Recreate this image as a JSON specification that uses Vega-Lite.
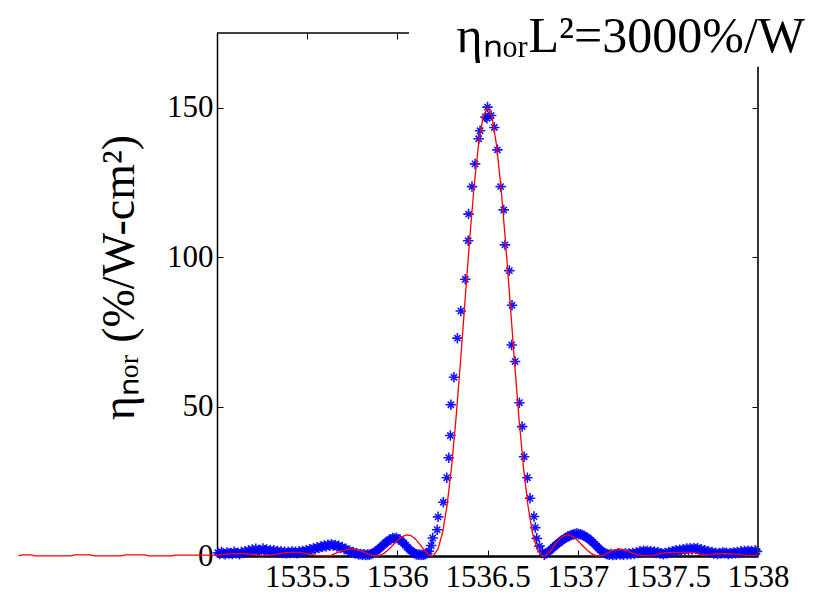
{
  "$schema": "https://vega.github.io/schema/vega-lite/v6.json",
  "width": 541,
  "height": 523,
  "autosize": {"type": "none"},
  "padding": {"left": 217, "top": 33, "right": 58, "bottom": 42},
  "background": "white",
  "title": {"text": "ηₙₒᵣL²=3000%/W", "anchor": "end", "frame": "group", "font": "Times New Roman, Liberation Serif, serif", "fontSize": 50, "fontWeight": "normal", "color": "black", "baseline": "alphabetic", "offset": 0, "dx": 47, "dy": 70},
  "config": {"view": {"stroke": null}, "axis": {"grid": false, "labelFont": "Times New Roman, Liberation Serif, serif", "labelFontSize": 31, "labelColor": "black", "tickColor": "black", "domainColor": "black", "titleFont": "Times New Roman, Liberation Serif, serif", "titleColor": "black", "titleFontWeight": "normal"}},
  "datasets": {
    "measured": [
      {"x":1535.005,"y":1.1},{"x":1535.015,"y":0.7},{"x":1535.025,"y":1.3},{"x":1535.035,"y":0.9},{"x":1535.045,"y":0.6},{"x":1535.055,"y":1.2},{"x":1535.065,"y":0.8},{"x":1535.075,"y":1.0},{"x":1535.085,"y":0.7},{"x":1535.095,"y":1.4},
      {"x":1535.105,"y":0.9},{"x":1535.115,"y":1.1},{"x":1535.125,"y":0.6},{"x":1535.135,"y":1.3},{"x":1535.145,"y":1.0},{"x":1535.155,"y":1.6},{"x":1535.165,"y":1.2},{"x":1535.175,"y":1.9},{"x":1535.185,"y":1.4},{"x":1535.195,"y":2.2},
      {"x":1535.205,"y":1.7},{"x":1535.215,"y":2.4},{"x":1535.225,"y":1.8},{"x":1535.235,"y":2.1},{"x":1535.245,"y":1.5},{"x":1535.255,"y":2.5},{"x":1535.265,"y":1.9},{"x":1535.275,"y":2.2},{"x":1535.285,"y":1.6},{"x":1535.295,"y":2.0},
      {"x":1535.305,"y":1.4},{"x":1535.315,"y":1.9},{"x":1535.325,"y":1.3},{"x":1535.335,"y":1.7},{"x":1535.345,"y":1.1},{"x":1535.355,"y":1.6},{"x":1535.365,"y":1.0},{"x":1535.375,"y":1.4},{"x":1535.385,"y":0.9},{"x":1535.395,"y":1.3},
      {"x":1535.405,"y":1.0},{"x":1535.415,"y":1.5},{"x":1535.425,"y":1.1},{"x":1535.435,"y":1.4},{"x":1535.445,"y":0.9},{"x":1535.455,"y":1.6},{"x":1535.465,"y":1.2},{"x":1535.475,"y":1.7},{"x":1535.485,"y":1.3},{"x":1535.495,"y":1.9},
      {"x":1535.505,"y":1.6},{"x":1535.515,"y":2.3},{"x":1535.525,"y":2.0},{"x":1535.535,"y":2.6},{"x":1535.545,"y":2.3},{"x":1535.555,"y":2.9},{"x":1535.565,"y":2.7},{"x":1535.575,"y":3.2},{"x":1535.585,"y":3.0},{"x":1535.595,"y":3.5},
      {"x":1535.605,"y":3.2},{"x":1535.615,"y":3.8},{"x":1535.625,"y":3.4},{"x":1535.635,"y":3.9},{"x":1535.645,"y":3.5},{"x":1535.655,"y":3.7},{"x":1535.665,"y":3.2},{"x":1535.675,"y":3.4},{"x":1535.685,"y":2.8},{"x":1535.695,"y":3.0},
      {"x":1535.705,"y":2.3},{"x":1535.715,"y":2.4},{"x":1535.725,"y":1.7},{"x":1535.735,"y":1.8},{"x":1535.745,"y":1.2},{"x":1535.755,"y":1.3},{"x":1535.765,"y":0.8},{"x":1535.775,"y":0.9},{"x":1535.785,"y":0.5},{"x":1535.795,"y":0.7},
      {"x":1535.805,"y":0.4},{"x":1535.815,"y":0.6},{"x":1535.825,"y":0.3},{"x":1535.835,"y":0.5},{"x":1535.845,"y":0.4},{"x":1535.855,"y":0.7},{"x":1535.865,"y":0.9},{"x":1535.875,"y":1.3},{"x":1535.885,"y":1.7},{"x":1535.895,"y":2.3},
      {"x":1535.905,"y":2.7},{"x":1535.915,"y":3.4},{"x":1535.925,"y":3.8},{"x":1535.935,"y":4.5},{"x":1535.945,"y":4.8},{"x":1535.955,"y":5.4},{"x":1535.965,"y":5.6},{"x":1535.975,"y":6.0},{"x":1535.985,"y":5.8},{"x":1535.995,"y":6.1},
      {"x":1536.005,"y":5.6},{"x":1536.015,"y":5.5},{"x":1536.025,"y":4.8},{"x":1536.035,"y":4.4},{"x":1536.045,"y":3.6},{"x":1536.055,"y":3.0},{"x":1536.065,"y":2.3},{"x":1536.075,"y":1.8},{"x":1536.085,"y":1.2},{"x":1536.095,"y":0.9},
      {"x":1536.105,"y":0.6},{"x":1536.115,"y":0.4},{"x":1536.125,"y":0.5},{"x":1536.135,"y":0.3},{"x":1536.145,"y":0.4},{"x":1536.155,"y":0.6},{"x":1536.165,"y":0.9},{"x":1536.175,"y":1.6},
      {"x":1536.188,"y":3.5},{"x":1536.196,"y":6.0},{"x":1536.221,"y":8.8},{"x":1536.226,"y":13.1},{"x":1536.255,"y":18.0},{"x":1536.274,"y":26.2},{"x":1536.285,"y":32.9},{"x":1536.294,"y":40.3},{"x":1536.297,"y":50.6},{"x":1536.314,"y":59.8},
      {"x":1536.333,"y":72.9},{"x":1536.352,"y":82.0},{"x":1536.377,"y":92.6},{"x":1536.393,"y":105.5},{"x":1536.395,"y":114.4},{"x":1536.414,"y":123.6},{"x":1536.431,"y":131.2},{"x":1536.451,"y":139.6},{"x":1536.459,"y":142.3},{"x":1536.488,"y":146.9},
      {"x":1536.497,"y":146.5},{"x":1536.5,"y":150.2},{"x":1536.52,"y":147.4},{"x":1536.538,"y":143.4},{"x":1536.555,"y":135.9},{"x":1536.573,"y":123.6},{"x":1536.59,"y":115.8},{"x":1536.597,"y":104.1},{"x":1536.621,"y":95.5},{"x":1536.636,"y":83.9},
      {"x":1536.634,"y":70.6},{"x":1536.653,"y":65.1},{"x":1536.677,"y":51.3},{"x":1536.692,"y":43.3},{"x":1536.703,"y":33.2},{"x":1536.721,"y":26.2},{"x":1536.736,"y":19.3},{"x":1536.758,"y":13.2},{"x":1536.765,"y":9.5},{"x":1536.773,"y":5.9},
      {"x":1536.788,"y":3.3},{"x":1536.805,"y":1.4},
      {"x":1536.815,"y":0.4},{"x":1536.825,"y":0.8},{"x":1536.835,"y":1.2},{"x":1536.845,"y":1.8},{"x":1536.855,"y":2.3},{"x":1536.865,"y":2.9},{"x":1536.875,"y":3.4},{"x":1536.885,"y":3.9},{"x":1536.895,"y":4.4},{"x":1536.905,"y":4.9},
      {"x":1536.915,"y":5.3},{"x":1536.925,"y":5.8},{"x":1536.935,"y":6.1},{"x":1536.945,"y":6.5},{"x":1536.955,"y":6.7},{"x":1536.965,"y":7.0},{"x":1536.975,"y":7.2},{"x":1536.985,"y":7.4},{"x":1536.995,"y":7.5},{"x":1537.005,"y":7.4},
      {"x":1537.015,"y":7.3},{"x":1537.025,"y":7.0},{"x":1537.035,"y":6.8},{"x":1537.045,"y":6.4},{"x":1537.055,"y":6.0},{"x":1537.065,"y":5.5},{"x":1537.075,"y":5.1},{"x":1537.085,"y":4.5},{"x":1537.095,"y":3.9},{"x":1537.105,"y":3.3},
      {"x":1537.115,"y":2.7},{"x":1537.125,"y":2.1},{"x":1537.135,"y":1.6},{"x":1537.145,"y":1.1},{"x":1537.155,"y":0.8},{"x":1537.165,"y":0.6},{"x":1537.175,"y":0.4},{"x":1537.185,"y":0.7},{"x":1537.195,"y":0.3},{"x":1537.205,"y":0.6},
      {"x":1537.215,"y":0.4},{"x":1537.225,"y":0.8},{"x":1537.235,"y":0.5},{"x":1537.245,"y":0.7},{"x":1537.255,"y":0.4},{"x":1537.265,"y":0.9},{"x":1537.275,"y":0.5},{"x":1537.285,"y":0.8},{"x":1537.295,"y":0.6},{"x":1537.305,"y":1.0},
      {"x":1537.315,"y":0.7},{"x":1537.325,"y":1.2},{"x":1537.335,"y":1.0},{"x":1537.345,"y":1.6},{"x":1537.355,"y":1.3},{"x":1537.365,"y":1.8},{"x":1537.375,"y":1.4},{"x":1537.385,"y":1.7},{"x":1537.395,"y":1.3},{"x":1537.405,"y":1.6},
      {"x":1537.415,"y":1.2},{"x":1537.425,"y":1.5},{"x":1537.435,"y":1.0},{"x":1537.445,"y":1.3},{"x":1537.455,"y":0.8},{"x":1537.465,"y":0.9},{"x":1537.475,"y":0.6},{"x":1537.485,"y":1.0},{"x":1537.495,"y":0.8},{"x":1537.505,"y":1.3},
      {"x":1537.515,"y":1.1},{"x":1537.525,"y":1.6},{"x":1537.535,"y":1.4},{"x":1537.545,"y":1.9},{"x":1537.555,"y":1.6},{"x":1537.565,"y":2.1},{"x":1537.575,"y":1.8},{"x":1537.585,"y":2.3},{"x":1537.595,"y":2.0},{"x":1537.605,"y":2.5},
      {"x":1537.615,"y":2.1},{"x":1537.625,"y":2.6},{"x":1537.635,"y":2.2},{"x":1537.645,"y":2.7},{"x":1537.655,"y":2.3},{"x":1537.665,"y":2.6},{"x":1537.675,"y":2.0},{"x":1537.685,"y":2.3},{"x":1537.695,"y":1.7},{"x":1537.705,"y":1.9},
      {"x":1537.715,"y":1.4},{"x":1537.725,"y":1.6},{"x":1537.735,"y":1.1},{"x":1537.745,"y":1.3},{"x":1537.755,"y":0.8},{"x":1537.765,"y":1.1},{"x":1537.775,"y":0.7},{"x":1537.785,"y":1.0},{"x":1537.795,"y":0.8},{"x":1537.805,"y":1.2},
      {"x":1537.815,"y":0.9},{"x":1537.825,"y":1.1},{"x":1537.835,"y":0.7},{"x":1537.845,"y":1.0},{"x":1537.855,"y":0.8},{"x":1537.865,"y":1.2},{"x":1537.875,"y":0.9},{"x":1537.885,"y":1.3},{"x":1537.895,"y":1.0},{"x":1537.905,"y":1.6},
      {"x":1537.915,"y":1.2},{"x":1537.925,"y":1.7},{"x":1537.935,"y":1.3},{"x":1537.945,"y":1.8},{"x":1537.955,"y":1.4},{"x":1537.965,"y":1.7},{"x":1537.975,"y":1.2},{"x":1537.985,"y":1.9},{"x":1537.995,"y":1.5}
    ],
    "theory": [
      {"x":1533.90,"y":0.05},{"x":1533.92,"y":0.4},{"x":1533.97,"y":0.4},{"x":1533.99,"y":0.05},{"x":1534.19,"y":0.05},{"x":1534.21,"y":0.4},{"x":1534.30,"y":0.4},{"x":1534.32,"y":0.05},{"x":1534.47,"y":0.05},{"x":1534.49,"y":0.4},
      {"x":1534.60,"y":0.4},{"x":1534.62,"y":0.05},{"x":1534.75,"y":0.05},{"x":1534.77,"y":0.3},{"x":1534.95,"y":0.3},
      {"x":1535.00,"y":0.3},{"x":1535.05,"y":0.6},{"x":1535.10,"y":0.8},{"x":1535.15,"y":0.8},{"x":1535.20,"y":0.5},{"x":1535.25,"y":0.1},{"x":1535.30,"y":0.3},{"x":1535.35,"y":0.9},{"x":1535.40,"y":1.2},{"x":1535.45,"y":1.2},
      {"x":1535.50,"y":0.8},{"x":1535.55,"y":0.2},{"x":1535.60,"y":0.05},{"x":1535.63,"y":0.1},{"x":1535.65,"y":0.7},{"x":1535.70,"y":1.9},{"x":1535.75,"y":2.4},{"x":1535.80,"y":1.6},{"x":1535.85,"y":0.4},{"x":1535.88,"y":0.0},
      {"x":1535.90,"y":0.16},{"x":1535.925,"y":0.88},{"x":1535.95,"y":2.08},{"x":1535.975,"y":3.6},{"x":1536.00,"y":5.16},{"x":1536.025,"y":6.41},{"x":1536.05,"y":7.04},{"x":1536.075,"y":6.84},{"x":1536.10,"y":5.71},{"x":1536.125,"y":3.89},
      {"x":1536.15,"y":1.84},{"x":1536.175,"y":0.32},{"x":1536.19,"y":0.0},{"x":1536.20,"y":0.17},{"x":1536.225,"y":2.3},{"x":1536.25,"y":7.6},{"x":1536.275,"y":16.6},{"x":1536.30,"y":29.4},{"x":1536.325,"y":45.8},{"x":1536.35,"y":64.8},
      {"x":1536.375,"y":85.1},{"x":1536.40,"y":105.1},{"x":1536.425,"y":123.2},{"x":1536.45,"y":137.6},{"x":1536.475,"y":146.8},{"x":1536.50,"y":150.0},{"x":1536.525,"y":146.8},{"x":1536.55,"y":137.6},{"x":1536.575,"y":123.2},{"x":1536.60,"y":105.1},
      {"x":1536.625,"y":85.1},{"x":1536.65,"y":64.8},{"x":1536.675,"y":45.8},{"x":1536.70,"y":29.4},{"x":1536.725,"y":16.6},{"x":1536.75,"y":7.6},{"x":1536.775,"y":2.3},{"x":1536.80,"y":0.17},{"x":1536.81,"y":0.0},{"x":1536.825,"y":0.32},
      {"x":1536.85,"y":1.84},{"x":1536.875,"y":3.89},{"x":1536.90,"y":5.71},{"x":1536.925,"y":6.84},{"x":1536.95,"y":7.04},{"x":1536.975,"y":6.41},{"x":1537.00,"y":5.16},{"x":1537.025,"y":3.6},{"x":1537.05,"y":2.08},{"x":1537.075,"y":0.88},
      {"x":1537.10,"y":0.16},{"x":1537.12,"y":0.0},{"x":1537.15,"y":0.5},{"x":1537.20,"y":2.0},{"x":1537.23,"y":2.4},{"x":1537.27,"y":1.8},{"x":1537.32,"y":0.6},{"x":1537.36,"y":0.05},{"x":1537.42,"y":0.1},{"x":1537.46,"y":0.9},
      {"x":1537.50,"y":1.1},{"x":1537.55,"y":1.2},{"x":1537.60,"y":1.2},{"x":1537.65,"y":1.1},{"x":1537.68,"y":0.5},{"x":1537.72,"y":0.3},{"x":1537.76,"y":0.7},{"x":1537.82,"y":0.8},{"x":1537.88,"y":0.6},{"x":1537.94,"y":0.2},{"x":1538.0,"y":0.1}
    ]
  },
  "resolve": {"axis": {"x": "independent", "y": "independent"}},
  "layer": [
    {
      "data": {"name": "measured"},
      "mark": {"type": "point", "shape": "M-1,0L1,0M0,-1L0,1M-0.6,-0.6L0.6,0.6M-0.6,0.6L0.6,-0.6", "filled": false, "stroke": "#0000ff", "strokeWidth": 1.6, "size": 110, "opacity": 0.9},
      "encoding": {
        "x": {"field": "x", "type": "quantitative", "scale": {"domain": [1535, 1538], "nice": false, "zero": false},
              "axis": {"orient": "bottom", "values": [1535.5, 1536, 1536.5, 1537, 1537.5, 1538], "title": null, "tickSize": -6, "tickWidth": 1, "labelPadding": 12, "domainWidth": 2.5, "labelFlush": false, "labelOverlap": false, "format": "~g"}},
        "y": {"field": "y", "type": "quantitative", "scale": {"domain": [0, 175], "nice": false, "zero": false},
              "axis": {"orient": "left", "values": [0, 50, 100, 150], "title": "ηₙₒᵣ (%/W-cm²)", "titleFontSize": 46, "titleAngle": -90, "titleAlign": "center", "titleBaseline": "alphabetic", "titleX": -84, "titleY": 244, "tickSize": -6, "tickWidth": 1, "labelPadding": 10, "domainWidth": 1.5}}
      }
    },
    {
      "data": {"name": "theory"},
      "mark": {"type": "line", "color": "#ff0000", "strokeWidth": 1.3, "clip": false},
      "encoding": {
        "x": {"field": "x", "type": "quantitative", "scale": {"domain": [1535, 1538], "nice": false, "zero": false}, "axis": null},
        "y": {"field": "y", "type": "quantitative", "scale": {"domain": [0, 175], "nice": false, "zero": false}, "axis": null}
      }
    },
    {
      "data": {"values": [{}]},
      "mark": {"type": "rule", "color": "black", "strokeWidth": 1.5},
      "encoding": {
        "x": {"datum": 1535, "type": "quantitative", "scale": {"domain": [1535, 1538], "nice": false, "zero": false},
              "axis": {"orient": "top", "values": [1535.5, 1536], "title": null, "labels": false, "domain": false, "tickSize": -6, "tickWidth": 1}},
        "x2": {"datum": 1536.065},
        "y": {"datum": 175, "type": "quantitative", "scale": {"domain": [0, 175], "nice": false, "zero": false}, "axis": null}
      }
    },
    {
      "data": {"values": [{}]},
      "mark": {"type": "rule", "color": "#333333", "strokeWidth": 2},
      "encoding": {
        "x": {"datum": 1538, "type": "quantitative", "scale": {"domain": [1535, 1538], "nice": false, "zero": false}, "axis": null},
        "y": {"datum": 0, "type": "quantitative", "scale": {"domain": [0, 175], "nice": false, "zero": false},
              "axis": {"orient": "right", "values": [50, 100, 150], "title": null, "labels": false, "domain": false, "tickSize": -6, "tickWidth": 1}},
        "y2": {"datum": 163.7}
      }
    }
  ]
}
